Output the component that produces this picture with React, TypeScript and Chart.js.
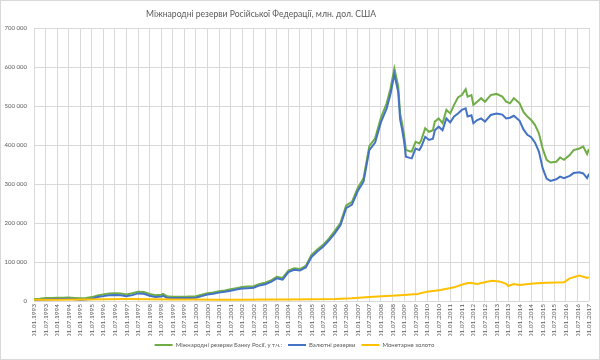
import React, { useEffect, useRef } from "react";
import { Chart, registerables } from "chart.js";

Chart.register(...registerables);

const TITLE = "Міжнародні резерви Російської Федерації, млн. дол. США";
const SERIES_NAMES = [
  "Міжнародні резерви Банку Росії, у т.ч.:",
  "Валютні резерви",
  "Монетарне золото",
];
const COLORS = ["#70AD47", "#4472C4", "#FFC000"];
const START_YEAR = 1993;

// month index counted from 01.01.1993
const monthIndex = [
  0, 3, 6, 9, 12, 15, 18, 21, 24, 27,
  30, 33, 36, 39, 42, 45, 48, 51, 54, 57,
  60, 63, 66, 67, 69, 72, 75, 78, 81, 84,
  87, 90, 93, 96, 99, 102, 105, 108, 111, 114,
  117, 120, 123, 126, 129, 132, 135, 138, 141, 144,
  147, 150, 153, 156, 159, 162, 165, 168, 171, 174,
  177, 180, 183, 185, 187, 189, 190, 191, 192, 193,
  195, 196, 198, 200, 201, 203, 205, 207, 208, 210,
  212, 214, 216, 218, 220, 222, 224, 225, 227, 228,
  230, 232, 234, 237, 240, 243, 245, 247, 249, 252,
  254, 256, 258, 260, 262, 264, 266, 268, 271, 273,
  275, 278, 280, 283, 285, 287, 288,
];

const totalReserves = [
  5000, 6000, 7500, 8000, 8500, 8500, 9000, 8000, 7000, 8000,
  10000, 14000, 17000, 19000, 20000, 19000, 17000, 20000, 24000, 23000,
  18000, 15000, 16000, 18000, 12000, 11000, 11000, 11000, 11500, 12000,
  16000, 20000, 22000, 25000, 27000, 30000, 33000, 36000, 37000, 38000,
  44000, 47000, 53000, 62000, 59000, 78000, 84000, 82000, 90000, 118000,
  132000, 144000, 160000, 179000, 200000, 245000, 254000, 290000, 315000, 397000,
  417000, 470000, 507000, 545000, 596000, 550000, 480000, 455000, 427000, 387000,
  384000, 383000, 408000, 404000, 413000, 443000, 434000, 438000, 460000, 468000,
  456000, 490000, 481000, 503000, 522000, 528000, 543000, 524000, 528000, 503000,
  511000, 520000, 511000, 528000, 531000, 524000, 511000, 507000, 520000, 507000,
  485000, 473000, 464000, 451000, 430000, 390000, 362000, 355000, 357000, 368000,
  362000, 374000, 387000, 391000, 396000, 377000, 390000,
];

const currencyReserves = [
  2000, 3000, 4000, 4500, 5000, 5000, 5500, 4500, 3000, 4000,
  6000, 10000, 12500, 14500, 15500, 14500, 12000, 15000, 19500, 18500,
  13500, 10500, 11500, 13500, 8000, 7500, 7500, 7500, 8000, 8500,
  12500, 16500, 18500, 21500, 23500, 26500, 29500, 32000, 33000, 34000,
  40000, 43000, 49000, 58000, 55000, 74000, 80000, 78000, 86000, 113000,
  127000, 139000, 155000, 173000, 194000, 238000, 247000, 282000, 306000, 387000,
  406000, 458000, 494000, 531000, 582000, 536000, 465000, 440000, 411000, 370000,
  367000, 366000, 391000, 387000, 396000, 421000, 413000, 416000, 438000, 447000,
  438000, 468000, 458000, 473000, 481000, 490000, 494000, 473000, 476000, 456000,
  464000, 468000, 460000, 477000, 481000, 478000, 468000, 470000, 475000, 462000,
  440000, 426000, 420000, 406000, 383000, 340000, 314000, 308000, 312000, 319000,
  315000, 321000, 328000, 330000, 327000, 315000, 326000,
];

const goldMonths = [
  0, 12, 24, 36, 48, 60, 72, 84, 96, 108,
  120, 132, 144, 156, 165, 176, 190, 199, 204, 211,
  218, 223, 226, 230, 235, 238, 242, 245, 246, 249,
  252, 259, 266, 275, 278, 283, 287, 288,
];
const monetaryGold = [
  3000, 3500, 4000, 4500, 5000, 4500, 4000, 4000, 3000, 3500,
  4000, 4000, 4300, 5000, 6800, 11000, 15000, 18000, 24000, 28000,
  35000, 43600, 47000, 43600, 49600, 52000, 49600, 44000, 38500, 43600,
  41000, 45000, 47000, 48000, 58000, 65000, 59000, 61000,
];

// tick positions: every half year, 01.01.1993 .. 01.01.2017
const tickMonths = Array.from({ length: 49 }, (_, i) => i * 6);
const Y_MAX = 700000;
const Y_STEP = 100000;

const FONT = "Lato, 'Liberation Sans', sans-serif";
const TEXT = "#595959";
const GRID = "#d9d9d9";

function dateLabel(m: number): string {
  const y = START_YEAR + Math.floor(m / 12);
  const mm = m % 12 === 0 ? "01" : "07";
  return `01.${mm}.${y}`;
}
function fmt(v: number): string {
  return String(v).replace(/\B(?=(\d{3})+(?!\d))/g, " ");
}
function pts(xs: number[], ys: number[]) {
  return xs.map((x, i) => ({ x, y: ys[i] }));
}

const frame = {
  id: "frame",
  beforeDraw(chart: any) {
    const { ctx, width, height } = chart;
    ctx.save();
    ctx.fillStyle = "#ffffff";
    ctx.fillRect(0, 0, width, height);
    ctx.strokeStyle = GRID;
    ctx.lineWidth = 1;
    ctx.strokeRect(0.5, 0.5, width - 1, height - 1);
    ctx.fillStyle = TEXT;
    ctx.font = `8.6px ${FONT}`;
    ctx.textAlign = "center";
    ctx.textBaseline = "middle";
    ctx.fillText(TITLE, 261, 14.5);
    ctx.restore();
  },
};

export default function App() {
  const ref = useRef<HTMLCanvasElement>(null);
  useEffect(() => {
    const chart = new Chart(ref.current!, {
      type: "line",
      data: {
        datasets: [
          {
            label: SERIES_NAMES[0],
            data: pts(monthIndex, totalReserves),
            borderColor: COLORS[0],
            backgroundColor: COLORS[0],
            borderWidth: 2,
            pointRadius: 0,
            order: 3,
          },
          {
            label: SERIES_NAMES[1],
            data: pts(monthIndex, currencyReserves),
            borderColor: COLORS[1],
            backgroundColor: COLORS[1],
            borderWidth: 2,
            pointRadius: 0,
            order: 2,
          },
          {
            label: SERIES_NAMES[2],
            data: pts(goldMonths, monetaryGold),
            borderColor: COLORS[2],
            backgroundColor: COLORS[2],
            borderWidth: 2,
            pointRadius: 0,
            order: 1,
          },
        ],
      },
      plugins: [frame],
      options: {
        animation: false,
        responsive: false,
        devicePixelRatio: 1,
        layout: { padding: { left: 0, right: 11, top: 28, bottom: 2 } },
        plugins: {
          title: { display: false },
          legend: {
            position: "bottom",
            labels: {
              usePointStyle: true,
              pointStyle: "line",
              pointStyleWidth: 18,
              color: TEXT,
              font: { family: FONT, size: 6 },
              padding: 6,
              sort: (a: any, b: any) => a.datasetIndex - b.datasetIndex,
            },
          },
          tooltip: { enabled: false },
        },
        scales: {
          x: {
            type: "linear",
            min: 0,
            max: tickMonths[tickMonths.length - 1],
            afterBuildTicks: (s: any) => {
              s.ticks = tickMonths.map((v) => ({ value: v }));
            },
            ticks: {
              autoSkip: false,
              maxRotation: 90,
              minRotation: 90,
              color: TEXT,
              font: { family: FONT, size: 6.5 },
              padding: 3,
              callback: (v: any) => dateLabel(Number(v)),
            },
            grid: { color: GRID, drawTicks: false },
            border: { display: false },
            afterFit: (s: any) => {
              s.height = 35;
            },
          },
          y: {
            min: 0,
            max: Y_MAX,
            ticks: {
              stepSize: Y_STEP,
              color: TEXT,
              font: { family: FONT, size: 6 },
              padding: 7,
              callback: (v: any) => fmt(Number(v)),
            },
            grid: { color: GRID, drawTicks: false },
            border: { display: false },
            afterFit: (s: any) => {
              s.width = 34;
            },
          },
        },
      },
    } as any);
    return () => chart.destroy();
  }, []);
  return (
    <div style={{ position: "absolute", left: 0, top: 0, width: 600, height: 360 }}>
      <canvas ref={ref} width={600} height={360} style={{ display: "block", width: 600, height: 360 }} />
    </div>
  );
}
